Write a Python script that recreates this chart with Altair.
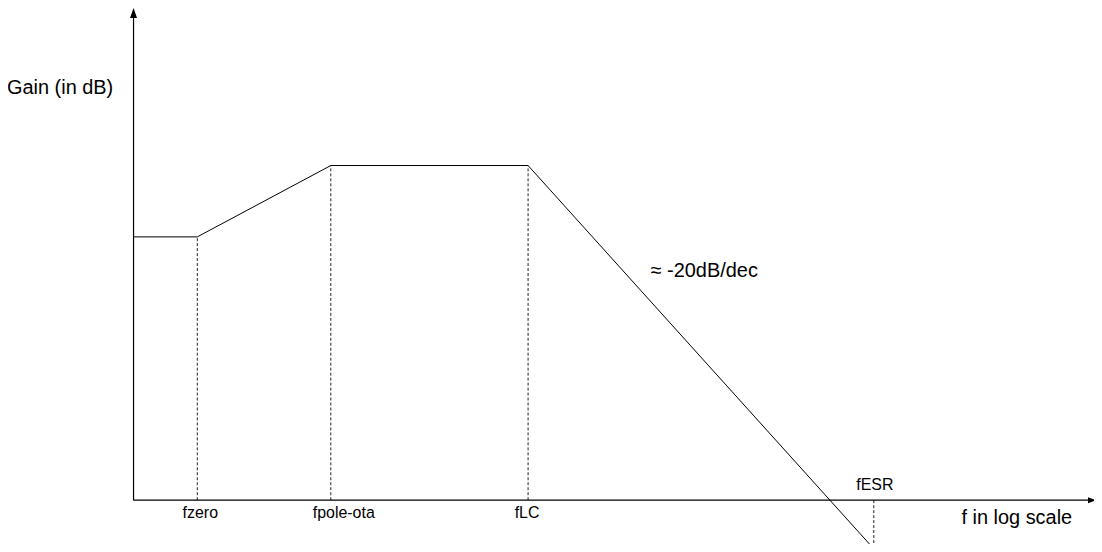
import altair as alt
import pandas as pd

# Corner frequencies (position in decades from the origin) and gains (dB)
curve_x = [0.0, 0.64, 1.98, 3.96, 7.43]
curve_y = [47.6, 47.6, 60.5, 60.5, -8.8]

# Dashed markers at the corner frequencies
mark_x = [0.64, 1.98, 3.96, 7.43]
mark_top = [47.6, 60.5, 60.5, -8.8]

# Frequency labels
label_text = ["fzero", "fpole-ota", "fLC", "fESR"]
label_x = [0.67, 2.11, 3.95, 7.44]
label_y = [-3.3, -3.3, -3.3, 1.8]

# Annotations
note_text = ["Gain (in dB)", "\u2248 -20dB/dec", "f in log scale"]
note_x = [-1.27, 5.19, 8.31]
note_y = [73.5, 40.4, -4.3]

# Axis extents
x_max = 9.62
y_max = 88.08

XS = alt.Scale(domain=[0, 9.64], nice=False, zero=False)
YS = alt.Scale(domain=[0, 88.8], nice=False, zero=False)

def X(f="x"):
    return alt.X(f"{f}:Q", scale=XS, axis=None)

def Y(f="y"):
    return alt.Y(f"{f}:Q", scale=YS, axis=None)

curve_df = pd.DataFrame({"x": curve_x, "y": curve_y, "o": range(len(curve_x))})
marks_df = pd.DataFrame({"x": mark_x, "y": [0] * len(mark_x), "y2": mark_top})
labels_df = pd.DataFrame({"x": label_x, "y": label_y, "t": label_text})
notes_df = pd.DataFrame({"x": note_x, "y": note_y, "t": note_text})
xaxis_df = pd.DataFrame({"x": [0.0], "x2": [x_max], "y": [0.0]})
yaxis_df = pd.DataFrame({"x": [0.0], "y": [0.0], "y2": [y_max]})
arrow_up_df = pd.DataFrame({"x": [0.0], "y": [y_max]})
arrow_right_df = pd.DataFrame({"x": [x_max], "y": [0.0]})

font = "Liberation Sans"

x_axis = alt.Chart(xaxis_df).mark_rule(color="black", strokeWidth=1.2).encode(
    x=X(), x2="x2:Q", y=Y())
y_axis = alt.Chart(yaxis_df).mark_rule(color="black", strokeWidth=1.2).encode(
    x=X(), y=Y(), y2="y2:Q")
arrow_up = alt.Chart(arrow_up_df).mark_point(
    shape="M0,-1L0.7,1L-0.7,1Z", filled=True, color="black", size=100, opacity=1
).encode(x=X(), y=Y())
arrow_right = alt.Chart(arrow_right_df).mark_point(
    shape="M1,0L-1,0.75L-1,-0.75Z", filled=True, color="black", size=64, opacity=1
).encode(x=X(), y=Y())

dashes = alt.Chart(marks_df).mark_rule(
    color="#222222", strokeWidth=1, strokeDash=[3, 2]
).encode(x=X(), y=Y(), y2="y2:Q")

curve = alt.Chart(curve_df).mark_line(color="black", strokeWidth=1).encode(
    x=X(), y=Y(), order="o:Q")

labels = alt.Chart(labels_df).mark_text(
    font=font, fontSize=16, align="center", baseline="alphabetic", color="black"
).encode(x=X(), y=Y(), text="t:N")

notes = alt.Chart(notes_df).mark_text(
    font=font, fontSize=20, align="left", baseline="alphabetic", color="black"
).encode(x=X(), y=Y(), text="t:N")

chart = alt.layer(
    dashes, curve, x_axis, y_axis, arrow_up, arrow_right, labels, notes
).properties(
    width=964,
    height=493,
    padding={"left": 126, "top": 0, "right": 0, "bottom": 43},
    autosize=alt.AutoSizeParams(type="none"),
    background="white",
).configure_view(stroke=None)

chart.save("out.html", embed_options={"renderer": "svg", "actions": False})
